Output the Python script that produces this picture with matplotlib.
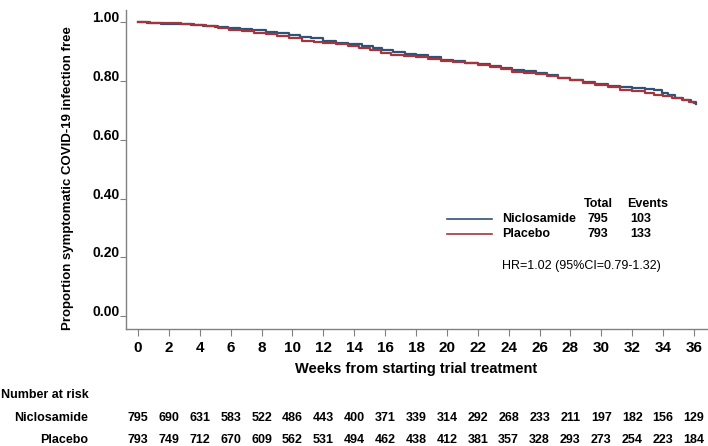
import matplotlib
matplotlib.use("Agg")
import matplotlib.pyplot as plt
from matplotlib.lines import Line2D
from matplotlib.transforms import blended_transform_factory

# Kaplan-Meier estimates
nic_weeks = [0, 0.6, 1.5, 2.5, 3.4, 4.2, 5.0, 5.8, 6.6, 7.4, 8.3, 9.0, 9.8, 10.5,
             11.2, 12.0, 12.8, 13.6, 14.5, 15.2, 15.8, 16.5, 17.3, 18.0, 18.8,
             19.6, 20.4, 21.2, 22.0, 22.8, 23.5, 24.2, 25.0, 25.8, 26.5, 27.2,
             28.0, 28.8, 29.6, 30.4, 31.2, 32.0, 32.8, 33.4, 33.9, 34.3, 34.8,
             35.3, 35.8, 36.1]
nic_surv = [1.000, 0.998, 0.996, 0.994, 0.992, 0.989, 0.984, 0.980, 0.977, 0.973,
            0.968, 0.963, 0.957, 0.951, 0.946, 0.938, 0.931, 0.925, 0.919, 0.912,
            0.905, 0.899, 0.893, 0.889, 0.882, 0.873, 0.867, 0.862, 0.857, 0.852,
            0.845, 0.837, 0.833, 0.829, 0.822, 0.811, 0.804, 0.798, 0.789, 0.782,
            0.779, 0.777, 0.774, 0.768, 0.761, 0.753, 0.743, 0.737, 0.730, 0.722]

pla_weeks = [0, 0.8, 1.8, 2.8, 3.6, 4.4, 5.2, 5.9, 6.7, 7.5, 8.3, 9.0, 9.8, 10.6,
             11.4, 12.0, 12.8, 13.6, 14.3, 15.0, 15.7, 16.4, 17.2, 18.0, 18.8,
             19.6, 20.4, 21.2, 22.0, 22.8, 23.5, 24.2, 25.0, 25.8, 26.5, 27.2,
             28.0, 28.8, 29.6, 30.4, 31.2, 32.0, 32.8, 33.4, 34.0, 34.6, 35.2,
             35.7, 36.0]
pla_surv = [1.000, 0.999, 0.998, 0.995, 0.991, 0.987, 0.980, 0.975, 0.970, 0.965,
            0.959, 0.953, 0.945, 0.937, 0.934, 0.931, 0.926, 0.920, 0.913, 0.906,
            0.896, 0.890, 0.886, 0.882, 0.876, 0.870, 0.865, 0.860, 0.854, 0.848,
            0.840, 0.832, 0.828, 0.823, 0.818, 0.810, 0.803, 0.795, 0.785, 0.779,
            0.771, 0.765, 0.758, 0.753, 0.748, 0.742, 0.736, 0.730, 0.724]

risk_weeks = list(range(0, 37, 2))
nic_risk = [795, 690, 631, 583, 522, 486, 443, 400, 371, 339, 314, 292, 268,
            233, 211, 197, 182, 156, 129]
pla_risk = [793, 749, 712, 670, 609, 562, 531, 494, 462, 438, 412, 381, 357,
            328, 293, 273, 254, 223, 184]

groups = ["Niclosamide", "Placebo"]
totals = [795, 793]
events = [103, 133]
y_ticks = [0.0, 0.2, 0.4, 0.6, 0.8, 1.0]

blue = "#2f5377"
red = "#a5343c"
grey = "#808080"

plt.rcParams['font.family'] = ['Liberation Sans', 'DejaVu Sans']

W, H = 708, 446
fy = lambda py: 1 - py / H  # pixel row -> figure fraction

fig = plt.figure(figsize=(W / 100, H / 100), dpi=100)
ax = fig.add_axes([126 / W, 1 - 329 / H, (707 - 126) / W, (329 - 10) / H])

ax.step(nic_weeks, nic_surv, where='post', color=blue, lw=1.6)
ax.step(pla_weeks, pla_surv, where='post', color=red, lw=1.6)

ax.set_xlim(-0.78, 36.84)
ax.set_ylim(-0.044, 1.042)

ax.set_xticks(risk_weeks)
ax.set_xticklabels([str(w) for w in risk_weeks], fontsize=11, fontweight='bold')
ax.set_yticks(y_ticks)
ax.set_yticklabels(["%.2f" % v for v in y_ticks], fontsize=10, fontweight='bold')
for lab in ax.get_yticklabels():
    lab.set_va('baseline')
ax.tick_params(axis='x', direction='out', length=5, color=grey, pad=4)
ax.tick_params(axis='y', direction='out', length=4.5, color=grey, pad=0)

for side in ['top', 'right']:
    ax.spines[side].set_visible(False)
for side in ['left', 'bottom']:
    ax.spines[side].set_color(grey)
    ax.spines[side].set_linewidth(1.0)

ax.set_xlabel("Weeks from starting trial treatment", fontsize=10.5,
              fontweight='bold', labelpad=5)
fig.text(68 / W, fy(330), "Proportion symptomatic COVID-19 infection free",
         rotation=90, ha='center', va='bottom', fontsize=9.5, fontweight='bold')

# legend block
fig.text(598 / W, fy(204), "Total", ha='center', va='center', fontsize=9, fontweight='bold')
fig.text(648 / W, fy(204), "Events", ha='center', va='center', fontsize=9, fontweight='bold')
for i, (g, c) in enumerate(zip(groups, [blue, red])):
    py = 219 + 15 * i
    fig.add_artist(Line2D([447 / W, 492 / W], [fy(py), fy(py)], color=c, lw=1.2,
                          transform=fig.transFigure))
    fig.text(502 / W, fy(py), g, ha='left', va='center', fontsize=9, fontweight='bold')
    fig.text(598 / W, fy(py), str(totals[i]), ha='center', va='center', fontsize=9, fontweight='bold')
    fig.text(641 / W, fy(py), str(events[i]), ha='center', va='center', fontsize=9, fontweight='bold')
fig.text(502 / W, fy(266), "HR=1.02 (95%CI=0.79-1.32)", ha='left', va='center', fontsize=9)

# number at risk table
fig.text(0.002, fy(395), "Number at risk", ha='left', va='center', fontsize=9, fontweight='bold')
trans = blended_transform_factory(ax.transData, fig.transFigure)
for row, (g, vals) in enumerate(zip(groups, [nic_risk, pla_risk])):
    py = 418 + 22 * row
    fig.text(88 / W, fy(py), g, ha='right', va='center', fontsize=9, fontweight='bold')
    for w, n in zip(risk_weeks, vals):
        ax.text(w, fy(py), str(n), transform=trans, ha='center', va='center',
                fontsize=9, fontweight='bold', clip_on=False)

fig.savefig("out.png", dpi=100)
